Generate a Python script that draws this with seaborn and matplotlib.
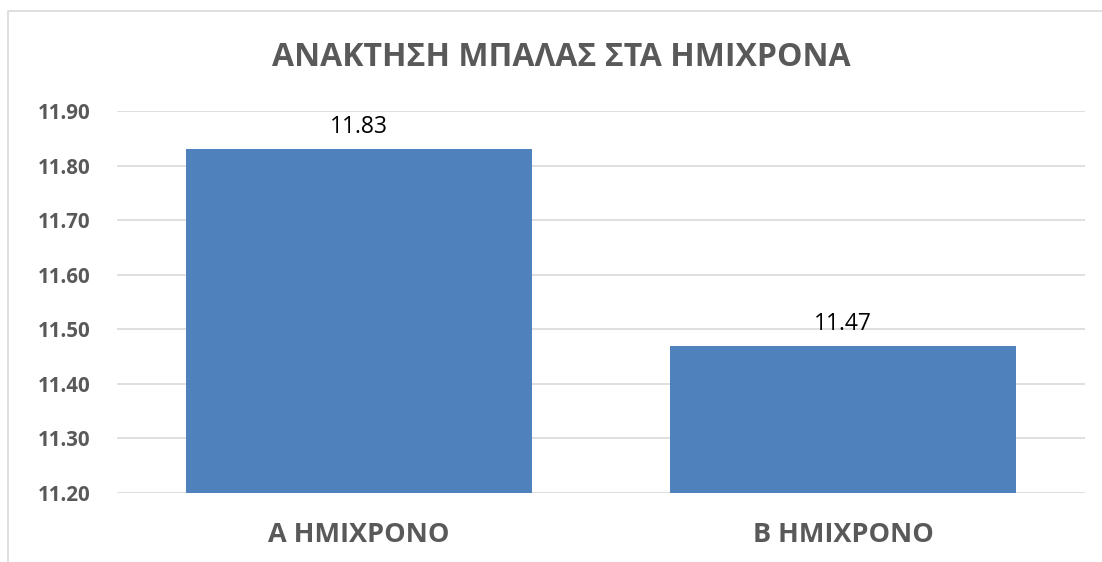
import numpy as np
import pandas as pd
import matplotlib
matplotlib.use("Agg")
import matplotlib.pyplot as plt
import seaborn as sns
from matplotlib.patches import Rectangle

# data
halves = ["Α ΗΜΙΧΡΟΝΟ", "Β ΗΜΙΧΡΟΝΟ"]
values = [11.83, 11.47]
y_ticks = [11.20, 11.30, 11.40, 11.50, 11.60, 11.70, 11.80, 11.90]

df = pd.DataFrame({"half": halves, "value": values})

sns.set_style("white")
plt.rcParams["font.family"] = ["Open Sans", "DejaVu Sans"]

gray = "#595959"
fig = plt.figure(figsize=(11.02, 5.62), dpi=100)
ax = fig.add_axes([0.106, 0.1228, 0.8786, 0.6797])

sns.barplot(x="half", y="value", data=df, color="#4F81BD", saturation=1,
            width=0.715, ax=ax)
# bars start at bottom of axis instead of 0
for p, v in zip(ax.patches, values):
    p.set_y(y_ticks[0])
    p.set_height(v - y_ticks[0])
    p.set_edgecolor("none")

ax.set_ylim(y_ticks[0], y_ticks[-1])
ax.set_xlim(-0.5, 1.5)
ax.set_yticks(y_ticks)
ax.set_yticklabels(["{:.2f}".format(t) for t in y_ticks], fontsize=14.8,
                   fontweight="bold", color=gray)
ax.set_xticklabels(halves, fontsize=19.5, fontweight="bold", color=gray)
ax.tick_params(axis="x", length=0, pad=21)
ax.tick_params(axis="y", length=0, pad=19)
ax.yaxis.grid(True, color="#D9D9D9", linewidth=1.2)
ax.set_axisbelow(True)
for s in ax.spines.values():
    s.set_visible(False)
ax.set_xlabel("")
ax.set_ylabel("")

for p, v in zip(ax.patches, values):
    ax.annotate("{:.2f}".format(v), (p.get_x() + p.get_width() / 2, v),
                xytext=(0, 7), textcoords="offset points", ha="center",
                va="bottom", fontsize=16.5, color="black")

fig.text(0.509, 0.897, "ΑΝΑΚΤΗΣΗ ΜΠΑΛΑΣ ΣΤΑ ΗΜΙΧΡΟΝΑ", ha="center", va="center",
         fontsize=23, fontweight="bold", color=gray)

fig.patches.append(Rectangle((0.0073, -0.1), 1.1, 1.0804, transform=fig.transFigure,
                             fill=False, edgecolor="#D9D9D9", linewidth=1.2))

fig.savefig("out.png", dpi=100)
